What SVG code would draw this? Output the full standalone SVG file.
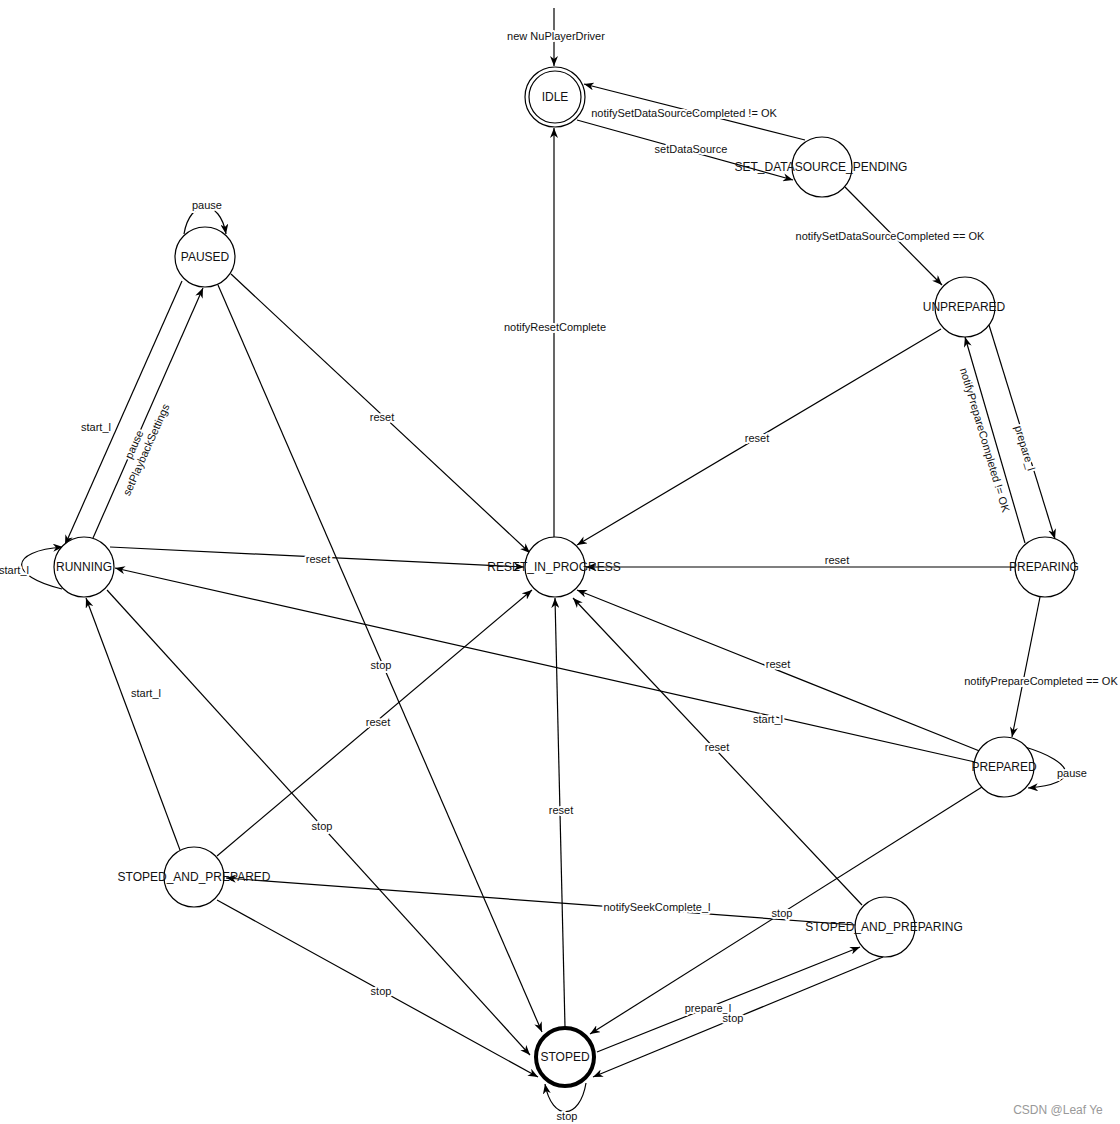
<svg xmlns="http://www.w3.org/2000/svg" width="1120" height="1124" viewBox="0 0 1120 1124">
<style>
.n circle{fill:#fff;stroke:#000;stroke-width:1.2}
.nt{font-family:"Liberation Sans",Arial,sans-serif;font-size:12px;fill:#111;text-anchor:middle;dominant-baseline:central}
.e path,.e line{fill:none;stroke:#000;stroke-width:1.2}
.a{marker-end:url(#arr)}
.l{font-family:"Liberation Sans",Arial,sans-serif;font-size:11px;fill:#111;text-anchor:middle;dominant-baseline:central;paint-order:stroke;stroke:#fff;stroke-width:4px;stroke-linejoin:round}
</style>
<defs>
<marker id="arr" viewBox="0 0 10 8" refX="10" refY="4" markerWidth="10" markerHeight="8" markerUnits="userSpaceOnUse" orient="auto">
<path d="M0,0 L10,4 L0,8 L3,4 Z" fill="#000"/>
</marker>
</defs>
<rect width="1120" height="1124" fill="#fff"/>
<g id="connectors" class="e">
<line class="a" x1="554" y1="8" x2="554" y2="66"/>
<line class="a" x1="577" y1="120" x2="793" y2="180"/>
<line class="a" x1="805" y1="140" x2="584" y2="84"/>
<line class="a" x1="845" y1="187" x2="942" y2="285"/>
<line class="a" x1="989" y1="325" x2="1055" y2="539"/>
<line class="a" x1="1025" y1="543" x2="965" y2="337"/>
<line class="a" x1="941" y1="329" x2="577" y2="545"/>
<line class="a" x1="1014" y1="567" x2="586" y2="567"/>
<line class="a" x1="1040" y1="597" x2="1012" y2="737"/>
<path class="a" d="M1025,747 C1075,762 1082,784 1028,788"/>
<line class="a" x1="982" y1="752" x2="577" y2="590"/>
<line class="a" x1="975" y1="762" x2="115" y2="568"/>
<line class="a" x1="982" y1="787" x2="590" y2="1034"/>
<line class="a" x1="554" y1="537" x2="554" y2="128"/>
<path class="a" d="M184,234 C190,198 220,198 226,234"/>
<line class="a" x1="231" y1="274" x2="530" y2="553"/>
<line class="a" x1="218" y1="285" x2="542" y2="1032"/>
<line class="a" x1="182" y1="281" x2="65" y2="545"/>
<line class="a" x1="93" y1="538" x2="203" y2="288"/>
<path class="a" d="M62,589 C8,576 8,551 63,547"/>
<line class="a" x1="110" y1="547" x2="524" y2="567"/>
<line class="a" x1="107" y1="590" x2="530" y2="1055"/>
<line class="a" x1="180" y1="850" x2="86" y2="598"/>
<line class="a" x1="217" y1="856" x2="532" y2="590"/>
<line class="a" x1="217" y1="900" x2="538" y2="1077"/>
<line class="a" x1="855" y1="925" x2="226" y2="878"/>
<line class="a" x1="862" y1="905" x2="573" y2="598"/>
<line class="a" x1="597" y1="1052" x2="860" y2="947"/>
<line class="a" x1="883" y1="957" x2="593" y2="1077"/>
<path class="a" d="M586,1083 C580,1120 552,1122 545,1084"/>
<line class="a" x1="565" y1="1027" x2="555" y2="598"/>
</g>
<g id="edge-labels">
<text class="l" x="556" y="36">new NuPlayerDriver</text>
<text class="l" x="684" y="113">notifySetDataSourceCompleted != OK</text>
<text class="l" x="691" y="149">setDataSource</text>
<text class="l" x="890" y="236">notifySetDataSourceCompleted == OK</text>
<text class="l" x="555" y="327">notifyResetComplete</text>
<text class="l" x="382" y="417">reset</text>
<text class="l" x="757" y="438">reset</text>
<text class="l" x="96" y="427">start_l</text>
<text class="l" x="318" y="559">reset</text>
<text class="l" x="837" y="560">reset</text>
<text class="l" x="14" y="570">start_l</text>
<text class="l" x="381" y="665">stop</text>
<text class="l" x="778" y="664">reset</text>
<text class="l" x="1041" y="681">notifyPrepareCompleted == OK</text>
<text class="l" x="146" y="693">start_l</text>
<text class="l" x="768" y="719">start_l</text>
<text class="l" x="378" y="722">reset</text>
<text class="l" x="717" y="747">reset</text>
<text class="l" x="1072" y="773">pause</text>
<text class="l" x="561" y="810">reset</text>
<text class="l" x="322" y="826">stop</text>
<text class="l" x="657" y="907">notifySeekComplete_l</text>
<text class="l" x="782" y="913">stop</text>
<text class="l" x="381" y="991">stop</text>
<text class="l" x="708" y="1008">prepare_l</text>
<text class="l" x="733" y="1018">stop</text>
<text class="l" x="567" y="1116">stop</text>
<text class="l" x="207" y="205">pause</text>
<text class="l" transform="translate(1025,448) rotate(73)">prepare_l</text>
<text class="l" transform="translate(985,440) rotate(73.5)">notifyPrepareCompleted != OK</text>
<g transform="translate(140,447) rotate(-66)">
<text class="l" x="0" y="-6.5">pause</text>
<text class="l" x="0" y="6.5">setPlaybackSettings</text>
</g>
</g>
<g id="IDLE" class="n"><circle cx="555" cy="97" r="30"/><circle cx="555" cy="97" r="26"/><text class="nt" x="555" y="97">IDLE</text></g>
<g id="SET_DATASOURCE_PENDING" class="n"><circle cx="822" cy="167" r="30"/><text class="nt" x="821" y="167">SET_DATASOURCE_PENDING</text></g>
<g id="PAUSED" class="n"><circle cx="205" cy="257" r="30"/><text class="nt" x="205" y="257">PAUSED</text></g>
<g id="UNPREPARED" class="n"><circle cx="965" cy="307" r="30"/><text class="nt" x="964" y="307">UNPREPARED</text></g>
<g id="RUNNING" class="n"><circle cx="84" cy="567" r="30"/><text class="nt" x="84" y="567">RUNNING</text></g>
<g id="RESET_IN_PROGRESS" class="n"><circle cx="555" cy="567" r="30"/><text class="nt" x="554" y="567">RESET_IN_PROGRESS</text></g>
<g id="PREPARING" class="n"><circle cx="1045" cy="567" r="30"/><text class="nt" x="1044" y="567">PREPARING</text></g>
<g id="PREPARED" class="n"><circle cx="1004" cy="767" r="30"/><text class="nt" x="1004" y="767">PREPARED</text></g>
<g id="STOPED_AND_PREPARED" class="n"><circle cx="194" cy="877" r="30"/><text class="nt" x="194" y="877">STOPED_AND_PREPARED</text></g>
<g id="STOPED_AND_PREPARING" class="n"><circle cx="885" cy="927" r="30"/><text class="nt" x="884" y="927">STOPED_AND_PREPARING</text></g>
<g id="STOPED" class="n"><circle cx="565" cy="1057" r="29" style="stroke-width:4"/><text class="nt" x="565" y="1057">STOPED</text></g>
<text x="1058" y="1110" style="font-family:'Liberation Sans',Arial,sans-serif;font-size:12px;fill:#999;text-anchor:middle;dominant-baseline:central">CSDN @Leaf Ye</text>
</svg>
